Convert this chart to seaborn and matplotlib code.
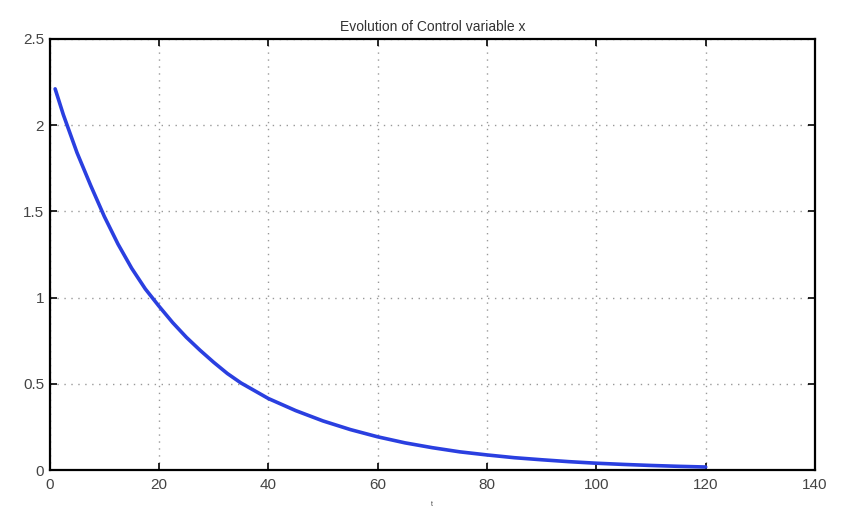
import matplotlib
matplotlib.use("Agg")
import matplotlib.pyplot as plt
from matplotlib import font_manager
import seaborn as sns
import pandas as pd

# Valori
t_values = [1, 2.5, 5, 7.5, 10, 12.5, 15, 17.5, 20, 22.5, 25, 27.5, 30,
            32.5, 35, 40, 45, 50, 55, 60, 65, 70, 75, 80, 85, 90, 95, 100,
            105, 110, 115, 120]
x_values = [2.21, 2.06, 1.84, 1.65, 1.47, 1.31, 1.17, 1.05, 0.95, 0.855,
            0.77, 0.695, 0.625, 0.56, 0.505, 0.415, 0.345, 0.285, 0.235,
            0.193, 0.158, 0.13, 0.106, 0.088, 0.072, 0.06, 0.049, 0.04,
            0.033, 0.027, 0.022, 0.018]
x_ticks = [0, 20, 40, 60, 80, 100, 120, 140]
y_ticks = [0, 0.5, 1, 1.5, 2, 2.5]
y_tick_labels = ["0", "0.5", "1", "1.5", "2", "2.5"]

df = pd.DataFrame({"t": t_values, "x": x_values})

sns.set_theme(style="white")
installed = {f.name for f in font_manager.fontManager.ttflist}
families = [f for f in ["Liberation Sans Narrow", "Liberation Sans"] if f in installed]
plt.rcParams["font.family"] = families + ["DejaVu Sans"]

fig = plt.figure(figsize=(8.42, 5.11), dpi=100)
ax = fig.add_axes([0.059, 0.080, 0.909, 0.844])

sns.lineplot(data=df, x="t", y="x", ax=ax, color="#2a3fe0", linewidth=2.6)

ax.set_xlim(0, 140)
ax.set_ylim(0, 2.5)
ax.set_xticks(x_ticks)
ax.set_yticks(y_ticks)
ax.set_yticklabels(y_tick_labels)
ax.grid(True, linestyle=(0, (1, 4)), color="#999999", linewidth=1)

for spine in ax.spines.values():
    spine.set_color("black")
    spine.set_linewidth(1.6)

ax.tick_params(direction="in", length=5, width=1.2, colors="black",
               labelcolor="#444444", labelsize=11, top=True, right=True,
               bottom=True, left=True, pad=4)
ax.tick_params(axis="x", pad=6)

ax.set_title("Evolution of Control variable x", fontsize=10, color="#333333", pad=6)
ax.set_xlabel("t", fontsize=5, color="#444444", labelpad=6)
ax.set_ylabel("")

fig.savefig("out.png", dpi=100)
